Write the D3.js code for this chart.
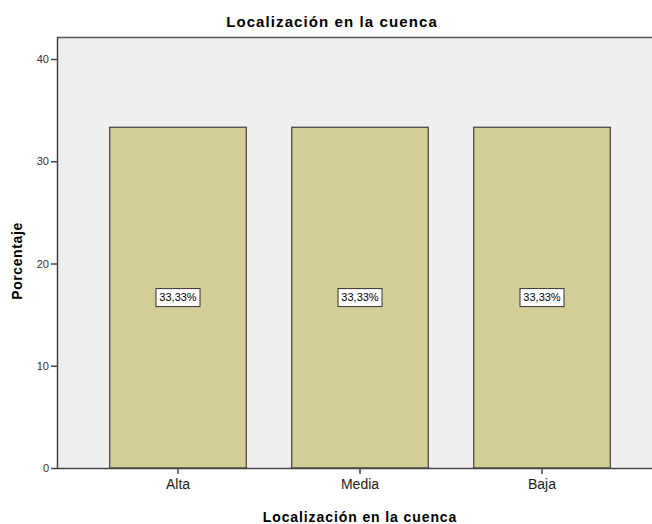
<!DOCTYPE html>
<html>
<head>
<meta charset="utf-8">
<script src="https://cdn.jsdelivr.net/npm/d3@7"></script>
<style>
  body { margin: 0; background: #fff; }
  svg text { font-family: Arial, "Liberation Sans", sans-serif; }
</style>
</head>
<body>
<div id="chart"></div>
<script>
// data
const categories = ["Alta", "Media", "Baja"];
const percents = [33.33, 33.33, 33.33];
const percentLabels = ["33,33%", "33,33%", "33,33%"];
const yTicks = [0, 10, 20, 30, 40];

const width = 652, height = 524;
const plot = {left: 57, top: 37, right: 652, bottom: 468};

const svg = d3.select('#chart').append('svg')
  .attr('width', width)
  .attr('height', height);

const x = d3.scaleBand()
  .domain(categories)
  .range([87, 633])
  .paddingInner(0.25)
  .paddingOuter(0.125);

const y = d3.scaleLinear()
  .domain([0, 40])
  .range([plot.bottom, 59]);

// plot background
svg.append('rect')
  .attr('x', plot.left)
  .attr('y', plot.top)
  .attr('width', plot.right - plot.left)
  .attr('height', plot.bottom - plot.top)
  .attr('fill', '#efefef');

svg.append('line')
  .attr('x1', plot.left).attr('x2', plot.right)
  .attr('y1', plot.top + 0.5).attr('y2', plot.top + 0.5)
  .attr('stroke', '#555').attr('stroke-width', 1.5);

// bars
const data = categories.map((c, i) => ({cat: c, value: percents[i], label: percentLabels[i]}));

svg.selectAll('rect.bar')
  .data(data)
  .join('rect')
  .attr('class', 'bar')
  .attr('x', d => x(d.cat))
  .attr('y', d => y(d.value))
  .attr('width', x.bandwidth())
  .attr('height', d => y(0) - y(d.value))
  .attr('fill', '#d3ce97')
  .attr('stroke', '#222')
  .attr('stroke-width', 1);

// value labels
const lab = svg.selectAll('g.lab')
  .data(data)
  .join('g')
  .attr('class', 'lab')
  .attr('transform', d => `translate(${x(d.cat) + x.bandwidth() / 2},${y(d.value / 2)})`);

lab.append('rect')
  .attr('x', -22).attr('y', -9)
  .attr('width', 44).attr('height', 18)
  .attr('fill', '#fff')
  .attr('stroke', '#333')
  .attr('stroke-width', 1);

lab.append('text')
  .attr('text-anchor', 'middle')
  .attr('dy', '0.35em')
  .attr('font-size', 11)
  .attr('fill', '#000')
  .text(d => d.label);

// y axis
const yAxis = svg.append('g')
  .attr('transform', `translate(${plot.left},0)`)
  .call(d3.axisLeft(y).tickValues(yTicks).tickSize(6).tickPadding(2));
yAxis.select('.domain').attr('d', `M0.5,${plot.top}V${plot.bottom}`).attr('stroke', '#444').attr('stroke-width', 1.5);
yAxis.selectAll('.tick line').attr('stroke', '#444').attr('stroke-width', 1.5);
yAxis.selectAll('.tick text').attr('font-size', 11).attr('fill', '#333').attr('font-family', 'Arial, "Liberation Sans", sans-serif');

// x axis
const xAxis = svg.append('g')
  .attr('transform', `translate(0,${plot.bottom})`)
  .call(d3.axisBottom(x).tickSize(6).tickPadding(5));
xAxis.select('.domain').attr('d', `M${plot.left},0.5H${plot.right}`).attr('stroke', '#444').attr('stroke-width', 1.5);
xAxis.selectAll('.tick line').attr('stroke', '#444').attr('stroke-width', 1.5);
xAxis.selectAll('.tick text').attr('font-size', 14).attr('fill', '#222').attr('font-family', 'Arial, "Liberation Sans", sans-serif');

// titles
svg.append('text')
  .attr('x', 332).attr('y', 27)
  .attr('text-anchor', 'middle')
  .attr('font-size', 15).attr('font-weight', 'bold')
  .attr('letter-spacing', 1.1)
  .text('Localización en la cuenca');

svg.append('text')
  .attr('x', 360).attr('y', 522)
  .attr('text-anchor', 'middle')
  .attr('font-size', 14).attr('font-weight', 'bold')
  .attr('letter-spacing', 0.9)
  .text('Localización en la cuenca');

svg.append('text')
  .attr('transform', 'translate(22,261) rotate(-90)')
  .attr('text-anchor', 'middle')
  .attr('font-size', 14).attr('font-weight', 'bold')
  .attr('letter-spacing', 0.6)
  .text('Porcentaje');
</script>
</body>
</html>
